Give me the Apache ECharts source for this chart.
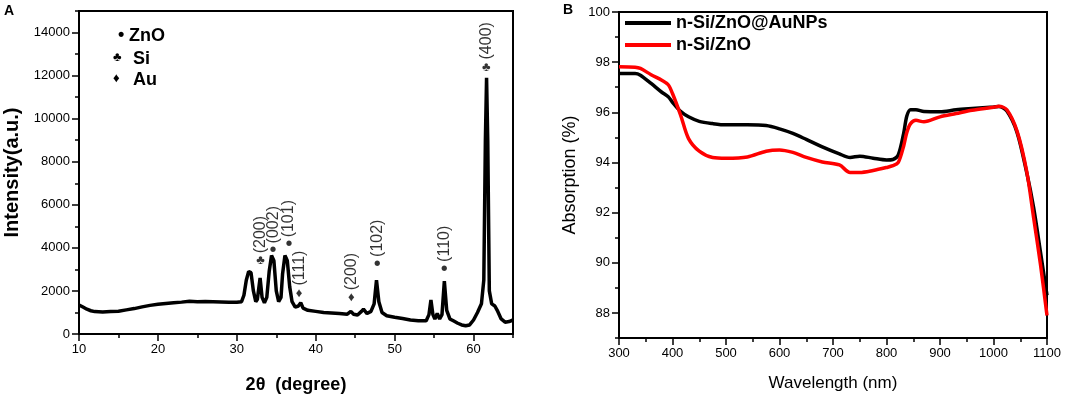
<!DOCTYPE html>
<html>
<head>
<meta charset="utf-8">
<script src="https://cdn.jsdelivr.net/npm/echarts@6/dist/echarts.min.js"></script>
<style>
  html, body { margin: 0; padding: 0; background: #fff; }
  #chart { width: 1084px; height: 399px; }
</style>
</head>
<body>
<div id="chart"></div>
<script>
// XRD pattern (panel A)
const xrdTheta = [10, 10.5, 11, 11.5, 12, 13, 14, 15, 16, 17, 18, 19, 20, 21, 22, 23, 24, 25, 26, 27, 28, 29, 30,
  30.6, 30.9, 31.2, 31.5, 31.8, 32.1, 32.4, 32.6, 32.95, 33.2, 33.5, 33.8, 34.1, 34.4, 34.7, 35.0, 35.3, 35.6, 35.8, 36.1, 36.4, 36.7,
  37.0, 37.4, 37.8, 38.1, 38.4, 39, 40, 41, 42, 43, 44, 44.45, 44.8, 45.3, 45.8, 46.05, 46.5, 47.0, 47.4, 47.7, 48.0, 48.4,
  49, 50, 51, 52, 53, 54, 54.35, 54.6, 54.85, 55.1, 55.4, 55.7, 56.0, 56.3, 56.6, 57, 57.5, 58, 58.5, 59, 59.5, 60, 60.5,
  61.0, 61.3, 61.5, 61.65, 61.8, 62.0, 62.3, 62.7, 63.0, 63.5, 64, 64.5, 65];
const xrdIntensity = [1350, 1250, 1150, 1080, 1040, 1020, 1040, 1060, 1120, 1180, 1260, 1330, 1380, 1420, 1450, 1480, 1520, 1500, 1510, 1500, 1490, 1480, 1470,
  1500, 1800, 2500, 2900, 2850, 2000, 1500, 1600, 2600, 1700, 1450, 1700, 2900, 3650, 3400, 2000, 1500, 1700, 2800, 3650, 3400, 2200,
  1500, 1250, 1300, 1450, 1200, 1100, 1050, 1000, 980, 950, 920, 1050, 920, 880, 1050, 1150, 950, 1050, 1400, 2500, 1500, 1000,
  850, 780, 720, 650, 620, 620, 900, 1580, 900, 700, 950, 700, 900, 2450, 1100, 700, 600, 500, 420, 380, 420, 650, 1000,
  1400, 2500, 9000, 11900, 9000, 2000, 1400, 1300, 1100, 700, 550, 580, 650];

// peak annotations (panel A)
const peakTheta = [33.0, 34.6, 36.6, 37.9, 44.5, 47.8, 56.3, 61.6];
const peakLevel = [3400, 3860, 4140, 1900, 1680, 3230, 3000, 12400];
const peakMark = ['♣', '•', '•', '♦', '♦', '•', '•', '♣'];
const peakHkl = ['(200)', '(002)', '(101)', '(111)', '(200)', '(102)', '(110)', '(400)'];

// absorption spectra (panel B)
const wavelength = [300, 330, 340, 360, 380, 392, 400, 415, 430, 450, 475, 500, 540, 575, 600, 625, 650, 680, 712, 732, 750,
  775, 800, 812, 822, 832, 838, 845, 855, 870, 900, 930, 960, 1000, 1010, 1025, 1044, 1062, 1075, 1088, 1100];
const absAu = [97.55, 97.55, 97.48, 97.15, 96.8, 96.62, 96.4, 96.04, 95.82, 95.64, 95.55, 95.5, 95.5, 95.47, 95.34, 95.16, 94.92, 94.62, 94.34, 94.2, 94.25,
  94.17, 94.1, 94.12, 94.3, 95.15, 95.85, 96.1, 96.1, 96.03, 96.02, 96.1, 96.15, 96.21, 96.23, 96.05, 95.2, 93.6, 92.2, 90.4, 88.7];
const absZnO = [97.82, 97.8, 97.75, 97.5, 97.28, 97.1, 96.75, 95.9, 94.95, 94.45, 94.2, 94.17, 94.22, 94.45, 94.5, 94.4, 94.2, 94.02, 93.9, 93.6, 93.6,
  93.68, 93.8, 93.87, 94.0, 94.65, 95.2, 95.55, 95.68, 95.62, 95.82, 95.95, 96.08, 96.2, 96.24, 96.1, 95.25, 93.65, 91.8, 89.9, 87.9];

const seriesNames = ['n-Si/ZnO@AuNPs', 'n-Si/ZnO'];

const xLabelsA = [10, 20, 30, 40, 50, 60];
const yLabelsA = [0, 2000, 4000, 6000, 8000, 10000, 12000, 14000];
const xLabelsB = [300, 400, 500, 600, 700, 800, 900, 1000, 1100];
const yLabelsB = [88, 90, 92, 94, 96, 98, 100];

const FONT = '"Liberation Sans", Arial, sans-serif';
const chart = echarts.init(document.getElementById('chart'));

const pair = (xs, ys) => xs.map((x, i) => [x, ys[i]]);

const lineStyle = { color: '#000', width: 2 };
const tickStyle = { color: '#000', width: 1.5 };
const labelStyle = { color: '#000', fontSize: 13, fontFamily: FONT, margin: 9, formatter: v => String(v) };

// main axis: short ticks at every step, labels only where listed
function mainAxis(grid, opts) {
  return Object.assign({
    type: 'value',
    gridIndex: grid,
    axisLine: { show: true, onZero: false, lineStyle: lineStyle },
    axisTick: { show: true, length: 4, lineStyle: tickStyle },
    axisLabel: labelStyle,
    splitLine: { show: false },
    nameLocation: 'middle',
    nameTextStyle: { color: '#000', fontFamily: FONT }
  }, opts);
}

// overlay axis carrying the longer major ticks
function majorAxis(grid, position, min, max, values) {
  return {
    type: 'value', gridIndex: grid, position: position, min: min, max: max,
    axisLine: { show: false, onZero: false },
    axisTick: { show: true, length: 7, lineStyle: tickStyle, customValues: values },
    axisLabel: { show: false },
    splitLine: { show: false }
  };
}

const option = {
  animation: false,
  backgroundColor: '#fff',
  textStyle: { fontFamily: FONT },
  grid: [
    { left: 79, right: 571, top: 11, bottom: 57, show: true, borderColor: '#000', borderWidth: 2 },
    { left: 619, right: 37, top: 12, bottom: 61, show: true, borderColor: '#000', borderWidth: 2 }
  ],
  legend: {
    data: seriesNames,
    orient: 'vertical',
    left: 625, top: 14,
    icon: 'rect',
    itemWidth: 46, itemHeight: 4, itemGap: 4,
    padding: 0,
    textStyle: { color: '#000', fontSize: 18, fontWeight: 'bold', fontFamily: FONT }
  },
  xAxis: [
    mainAxis(0, {
      min: 10, max: 65, interval: 5,
      name: '2θ  (degree)', nameGap: 42,
      nameTextStyle: { color: '#000', fontFamily: FONT, fontSize: 18, fontWeight: 'bold' },
      axisLabel: Object.assign({}, labelStyle, { customValues: xLabelsA })
    }),
    majorAxis(0, 'bottom', 10, 65, xLabelsA),
    mainAxis(1, {
      min: 300, max: 1100, interval: 50,
      name: 'Wavelength (nm)', nameGap: 37,
      nameTextStyle: { color: '#000', fontFamily: FONT, fontSize: 17 },
      axisLabel: Object.assign({}, labelStyle, { customValues: xLabelsB })
    }),
    majorAxis(1, 'bottom', 300, 1100, xLabelsB)
  ],
  yAxis: [
    mainAxis(0, {
      min: 0, max: 15000, interval: 1000,
      name: 'Intensity(a.u.)', nameGap: 57,
      nameTextStyle: { color: '#000', fontFamily: FONT, fontSize: 20, fontWeight: 'bold' },
      axisLabel: Object.assign({}, labelStyle, { customValues: yLabelsA })
    }),
    majorAxis(0, 'left', 0, 15000, yLabelsA),
    mainAxis(1, {
      min: 87, max: 100, interval: 1,
      name: 'Absorption (%)', nameGap: 40,
      nameTextStyle: { color: '#000', fontFamily: FONT, fontSize: 18 },
      axisLabel: Object.assign({}, labelStyle, { customValues: yLabelsB })
    }),
    majorAxis(1, 'left', 87, 100, yLabelsB)
  ],
  graphic: [
    { type: 'text', left: 4, top: 4, style: { text: 'A', font: 'bold 14px ' + FONT, fill: '#000' } },
    { type: 'text', left: 563, top: 3, style: { text: 'B', font: 'bold 14px ' + FONT, fill: '#000' } },
    { type: 'text', left: 118, top: 26, style: { text: '•', font: 'bold 18px ' + FONT, fill: '#000' } },
    { type: 'text', left: 129, top: 27, style: { text: 'ZnO', font: 'bold 18px ' + FONT, fill: '#000' } },
    { type: 'text', left: 113, top: 51, style: { text: '♣', font: '13px ' + FONT, fill: '#000' } },
    { type: 'text', left: 133, top: 50, style: { text: 'Si', font: 'bold 18px ' + FONT, fill: '#000' } },
    { type: 'text', left: 113, top: 72, style: { text: '♦', font: '13px ' + FONT, fill: '#000' } },
    { type: 'text', left: 133, top: 71, style: { text: 'Au', font: 'bold 18px ' + FONT, fill: '#000' } }
  ],
  series: [
    {
      name: 'XRD', type: 'line', xAxisIndex: 0, yAxisIndex: 0,
      data: pair(xrdTheta, xrdIntensity),
      showSymbol: false, silent: true,
      lineStyle: { color: '#000', width: 3.5 }, itemStyle: { color: '#000' }
    },
    {
      name: 'marks', type: 'scatter', xAxisIndex: 0, yAxisIndex: 0,
      symbolSize: 1, itemStyle: { color: 'rgba(0,0,0,0)' }, silent: true,
      data: peakTheta.map((t, i) => ({
        value: [t, peakLevel[i]],
        label: { fontSize: peakMark[i] === '•' ? 20 : 13 }
      })),
      label: {
        show: true, position: 'inside', color: '#000', fontFamily: FONT,
        formatter: p => peakMark[p.dataIndex]
      }
    },
    {
      name: 'hkl', type: 'scatter', xAxisIndex: 0, yAxisIndex: 0,
      symbolSize: 1, itemStyle: { color: 'rgba(0,0,0,0)' }, silent: true,
      data: pair(peakTheta, peakLevel),
      label: {
        show: true, position: 'top', distance: 7, rotate: 90,
        align: 'left', verticalAlign: 'middle',
        color: '#000', fontSize: 16, fontFamily: FONT,
        formatter: p => peakHkl[p.dataIndex]
      }
    },
    {
      name: seriesNames[0], type: 'line', xAxisIndex: 2, yAxisIndex: 2,
      data: pair(wavelength, absAu), smooth: 0.3,
      showSymbol: false, lineStyle: { color: '#000', width: 3.5 }, itemStyle: { color: '#000' }
    },
    {
      name: seriesNames[1], type: 'line', xAxisIndex: 2, yAxisIndex: 2,
      data: pair(wavelength, absZnO), smooth: 0.3,
      showSymbol: false, lineStyle: { color: '#ff0000', width: 3.5 }, itemStyle: { color: '#ff0000' }
    }
  ]
};

chart.setOption(option);
</script>
</body>
</html>
